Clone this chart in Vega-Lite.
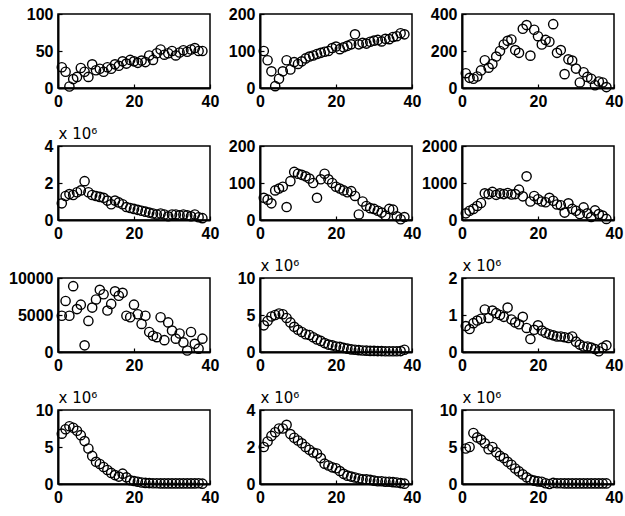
{
  "$schema": "https://vega.github.io/schema/vega-lite/v6.json",
  "background": "white",
  "padding": {"left": 7, "top": 5, "right": 5, "bottom": 5},
  "columns": 3,
  "bounds": "flush",
  "spacing": {"row": 58, "column": 50},
  "config": {
    "view": {"stroke": "black", "strokeWidth": 1.5},
    "axis": {
      "grid": false,
      "labelFont": "Liberation Sans",
      "labelFontSize": 16,
      "labelFontWeight": "bold",
      "labelColor": "black",
      "labelFlush": false,
      "labelOverlap": false,
      "labelPadding": 9,
      "domainColor": "black",
      "domainWidth": 2,
      "tickColor": "black",
      "tickSize": -4,
      "tickWidth": 1.2,
      "title": null,
      "format": "d",
      "titleFont": "DejaVu Sans",
      "titleFontSize": 15,
      "titleFontWeight": "normal",
      "titleColor": "black"
    },
    "point": {"shape": "circle", "filled": false, "stroke": "black", "strokeWidth": 1.4, "size": 85, "opacity": 1}
  },
  "datasets": {
    "p1": [{"x":1,"y":28},{"x":2,"y":22},{"x":3,"y":2},{"x":4,"y":12},{"x":5,"y":15},{"x":6,"y":27},{"x":7,"y":22},{"x":8,"y":15},{"x":9,"y":32},{"x":10,"y":24},{"x":11,"y":26},{"x":12,"y":22},{"x":13,"y":28},{"x":14,"y":26},{"x":15,"y":32},{"x":16,"y":30},{"x":17,"y":36},{"x":18,"y":33},{"x":19,"y":38},{"x":20,"y":36},{"x":21,"y":34},{"x":22,"y":37},{"x":23,"y":35},{"x":24,"y":44},{"x":25,"y":38},{"x":26,"y":47},{"x":27,"y":52},{"x":28,"y":45},{"x":29,"y":47},{"x":30,"y":50},{"x":31,"y":44},{"x":32,"y":48},{"x":33,"y":51},{"x":34,"y":49},{"x":35,"y":52},{"x":36,"y":54},{"x":37,"y":50},{"x":38,"y":50}],
    "p2": [{"x":1,"y":100},{"x":2,"y":75},{"x":3,"y":45},{"x":4,"y":5},{"x":5,"y":25},{"x":6,"y":45},{"x":7,"y":75},{"x":8,"y":50},{"x":9,"y":70},{"x":10,"y":65},{"x":11,"y":72},{"x":12,"y":80},{"x":13,"y":85},{"x":14,"y":88},{"x":15,"y":92},{"x":16,"y":95},{"x":17,"y":98},{"x":18,"y":100},{"x":19,"y":108},{"x":20,"y":112},{"x":21,"y":105},{"x":22,"y":110},{"x":23,"y":114},{"x":24,"y":118},{"x":25,"y":145},{"x":26,"y":118},{"x":27,"y":122},{"x":28,"y":120},{"x":29,"y":125},{"x":30,"y":128},{"x":31,"y":130},{"x":32,"y":126},{"x":33,"y":133},{"x":34,"y":132},{"x":35,"y":138},{"x":36,"y":140},{"x":37,"y":148},{"x":38,"y":145}],
    "p3": [{"x":1,"y":80},{"x":2,"y":55},{"x":3,"y":50},{"x":4,"y":62},{"x":5,"y":95},{"x":6,"y":150},{"x":7,"y":110},{"x":8,"y":130},{"x":9,"y":170},{"x":10,"y":200},{"x":11,"y":235},{"x":12,"y":255},{"x":13,"y":262},{"x":14,"y":205},{"x":15,"y":190},{"x":16,"y":320},{"x":17,"y":340},{"x":18,"y":175},{"x":19,"y":315},{"x":20,"y":280},{"x":21,"y":235},{"x":22,"y":260},{"x":23,"y":250},{"x":24,"y":345},{"x":25,"y":190},{"x":26,"y":205},{"x":27,"y":75},{"x":28,"y":155},{"x":29,"y":148},{"x":30,"y":105},{"x":31,"y":30},{"x":32,"y":85},{"x":33,"y":60},{"x":34,"y":50},{"x":35,"y":15},{"x":36,"y":35},{"x":37,"y":30},{"x":38,"y":5}],
    "p4": [{"x":1,"y":0.9},{"x":2,"y":1.3},{"x":3,"y":1.4},{"x":4,"y":1.35},{"x":5,"y":1.5},{"x":6,"y":1.6},{"x":7,"y":2.1},{"x":8,"y":1.5},{"x":9,"y":1.35},{"x":10,"y":1.3},{"x":11,"y":1.25},{"x":12,"y":1.2},{"x":13,"y":1.05},{"x":14,"y":0.85},{"x":15,"y":1.05},{"x":16,"y":0.95},{"x":17,"y":0.85},{"x":18,"y":0.7},{"x":19,"y":0.65},{"x":20,"y":0.6},{"x":21,"y":0.55},{"x":22,"y":0.5},{"x":23,"y":0.45},{"x":24,"y":0.4},{"x":25,"y":0.35},{"x":26,"y":0.3},{"x":27,"y":0.35},{"x":28,"y":0.3},{"x":29,"y":0.2},{"x":30,"y":0.3},{"x":31,"y":0.3},{"x":32,"y":0.25},{"x":33,"y":0.3},{"x":34,"y":0.25},{"x":35,"y":0.2},{"x":36,"y":0.3},{"x":37,"y":0.15},{"x":38,"y":0.1}],
    "p5": [{"x":1,"y":60},{"x":2,"y":55},{"x":3,"y":45},{"x":4,"y":80},{"x":5,"y":85},{"x":6,"y":90},{"x":7,"y":35},{"x":8,"y":105},{"x":9,"y":130},{"x":10,"y":125},{"x":11,"y":122},{"x":12,"y":118},{"x":13,"y":112},{"x":14,"y":100},{"x":15,"y":60},{"x":16,"y":110},{"x":17,"y":125},{"x":18,"y":110},{"x":19,"y":100},{"x":20,"y":90},{"x":21,"y":85},{"x":22,"y":80},{"x":23,"y":75},{"x":24,"y":78},{"x":25,"y":65},{"x":26,"y":15},{"x":27,"y":50},{"x":28,"y":38},{"x":29,"y":32},{"x":30,"y":30},{"x":31,"y":25},{"x":32,"y":20},{"x":33,"y":12},{"x":34,"y":30},{"x":35,"y":28},{"x":36,"y":10},{"x":37,"y":2},{"x":38,"y":8}],
    "p6": [{"x":1,"y":180},{"x":2,"y":250},{"x":3,"y":300},{"x":4,"y":380},{"x":5,"y":460},{"x":6,"y":720},{"x":7,"y":700},{"x":8,"y":760},{"x":9,"y":680},{"x":10,"y":720},{"x":11,"y":700},{"x":12,"y":730},{"x":13,"y":690},{"x":14,"y":700},{"x":15,"y":820},{"x":16,"y":640},{"x":17,"y":1180},{"x":18,"y":500},{"x":19,"y":650},{"x":20,"y":560},{"x":21,"y":500},{"x":22,"y":480},{"x":23,"y":600},{"x":24,"y":520},{"x":25,"y":420},{"x":26,"y":400},{"x":27,"y":200},{"x":28,"y":450},{"x":29,"y":300},{"x":30,"y":250},{"x":31,"y":160},{"x":32,"y":340},{"x":33,"y":180},{"x":34,"y":80},{"x":35,"y":260},{"x":36,"y":160},{"x":37,"y":120},{"x":38,"y":30}],
    "p7": [{"x":1,"y":4900},{"x":2,"y":6900},{"x":3,"y":4900},{"x":4,"y":8900},{"x":5,"y":5800},{"x":6,"y":6400},{"x":7,"y":900},{"x":8,"y":4200},{"x":9,"y":6000},{"x":10,"y":7100},{"x":11,"y":8400},{"x":12,"y":7800},{"x":13,"y":5600},{"x":14,"y":6500},{"x":15,"y":8200},{"x":16,"y":7600},{"x":17,"y":8000},{"x":18,"y":4900},{"x":19,"y":4700},{"x":20,"y":6400},{"x":21,"y":5100},{"x":22,"y":3800},{"x":23,"y":4900},{"x":24,"y":2700},{"x":25,"y":2200},{"x":26,"y":2000},{"x":27,"y":4700},{"x":28,"y":1600},{"x":29,"y":4000},{"x":30,"y":2900},{"x":31,"y":1800},{"x":32,"y":2500},{"x":33,"y":1300},{"x":34,"y":200},{"x":35,"y":2700},{"x":36,"y":1100},{"x":37,"y":450},{"x":38,"y":1800}],
    "p8": [{"x":1,"y":3.6},{"x":2,"y":4.2},{"x":3,"y":4.8},{"x":4,"y":5.0},{"x":5,"y":5.2},{"x":6,"y":5.1},{"x":7,"y":4.6},{"x":8,"y":4.0},{"x":9,"y":3.4},{"x":10,"y":3.0},{"x":11,"y":2.7},{"x":12,"y":2.4},{"x":13,"y":2.3},{"x":14,"y":2.0},{"x":15,"y":1.7},{"x":16,"y":1.5},{"x":17,"y":1.2},{"x":18,"y":1.0},{"x":19,"y":0.9},{"x":20,"y":0.75},{"x":21,"y":0.7},{"x":22,"y":0.55},{"x":23,"y":0.45},{"x":24,"y":0.35},{"x":25,"y":0.3},{"x":26,"y":0.25},{"x":27,"y":0.2},{"x":28,"y":0.18},{"x":29,"y":0.15},{"x":30,"y":0.15},{"x":31,"y":0.12},{"x":32,"y":0.12},{"x":33,"y":0.1},{"x":34,"y":0.1},{"x":35,"y":0.1},{"x":36,"y":0.1},{"x":37,"y":0.12},{"x":38,"y":0.3}],
    "p9": [{"x":1,"y":0.7},{"x":2,"y":0.62},{"x":3,"y":0.78},{"x":4,"y":0.85},{"x":5,"y":0.9},{"x":6,"y":1.15},{"x":7,"y":0.92},{"x":8,"y":1.12},{"x":9,"y":1.05},{"x":10,"y":1.0},{"x":11,"y":0.95},{"x":12,"y":1.2},{"x":13,"y":0.88},{"x":14,"y":0.8},{"x":15,"y":0.75},{"x":16,"y":0.95},{"x":17,"y":0.65},{"x":18,"y":0.35},{"x":19,"y":0.6},{"x":20,"y":0.72},{"x":21,"y":0.58},{"x":22,"y":0.52},{"x":23,"y":0.48},{"x":24,"y":0.45},{"x":25,"y":0.42},{"x":26,"y":0.42},{"x":27,"y":0.4},{"x":28,"y":0.38},{"x":29,"y":0.42},{"x":30,"y":0.28},{"x":31,"y":0.2},{"x":32,"y":0.15},{"x":33,"y":0.15},{"x":34,"y":0.12},{"x":35,"y":0.08},{"x":36,"y":0.02},{"x":37,"y":0.12},{"x":38,"y":0.18}],
    "p10": [{"x":1,"y":6.8},{"x":2,"y":7.4},{"x":3,"y":7.8},{"x":4,"y":7.6},{"x":5,"y":7.2},{"x":6,"y":6.6},{"x":7,"y":5.8},{"x":8,"y":4.8},{"x":9,"y":3.8},{"x":10,"y":3.0},{"x":11,"y":2.7},{"x":12,"y":2.3},{"x":13,"y":1.9},{"x":14,"y":1.5},{"x":15,"y":1.2},{"x":16,"y":1.0},{"x":17,"y":1.4},{"x":18,"y":0.9},{"x":19,"y":0.5},{"x":20,"y":0.4},{"x":21,"y":0.3},{"x":22,"y":0.2},{"x":23,"y":0.15},{"x":24,"y":0.12},{"x":25,"y":0.1},{"x":26,"y":0.1},{"x":27,"y":0.08},{"x":28,"y":0.08},{"x":29,"y":0.08},{"x":30,"y":0.08},{"x":31,"y":0.08},{"x":32,"y":0.08},{"x":33,"y":0.08},{"x":34,"y":0.08},{"x":35,"y":0.08},{"x":36,"y":0.08},{"x":37,"y":0.1},{"x":38,"y":0.05}],
    "p11": [{"x":1,"y":2.0},{"x":2,"y":2.3},{"x":3,"y":2.6},{"x":4,"y":2.8},{"x":5,"y":3.0},{"x":6,"y":3.0},{"x":7,"y":3.2},{"x":8,"y":2.7},{"x":9,"y":2.5},{"x":10,"y":2.35},{"x":11,"y":2.2},{"x":12,"y":2.0},{"x":13,"y":1.85},{"x":14,"y":1.7},{"x":15,"y":1.65},{"x":16,"y":1.4},{"x":17,"y":1.1},{"x":18,"y":1.0},{"x":19,"y":0.9},{"x":20,"y":0.85},{"x":21,"y":0.7},{"x":22,"y":0.55},{"x":23,"y":0.45},{"x":24,"y":0.4},{"x":25,"y":0.35},{"x":26,"y":0.3},{"x":27,"y":0.25},{"x":28,"y":0.25},{"x":29,"y":0.22},{"x":30,"y":0.18},{"x":31,"y":0.15},{"x":32,"y":0.15},{"x":33,"y":0.12},{"x":34,"y":0.12},{"x":35,"y":0.1},{"x":36,"y":0.08},{"x":37,"y":0.05},{"x":38,"y":0.02}],
    "p12": [{"x":1,"y":4.8},{"x":2,"y":5.0},{"x":3,"y":6.9},{"x":4,"y":6.3},{"x":5,"y":6.0},{"x":6,"y":5.5},{"x":7,"y":4.7},{"x":8,"y":5.0},{"x":9,"y":4.3},{"x":10,"y":3.8},{"x":11,"y":3.5},{"x":12,"y":3.0},{"x":13,"y":2.6},{"x":14,"y":2.1},{"x":15,"y":1.7},{"x":16,"y":1.3},{"x":17,"y":0.9},{"x":18,"y":0.6},{"x":19,"y":0.45},{"x":20,"y":0.35},{"x":21,"y":0.3},{"x":22,"y":0.1},{"x":23,"y":0.0},{"x":24,"y":0.15},{"x":25,"y":0.1},{"x":26,"y":0.1},{"x":27,"y":0.08},{"x":28,"y":0.08},{"x":29,"y":0.08},{"x":30,"y":0.08},{"x":31,"y":0.08},{"x":32,"y":0.08},{"x":33,"y":0.08},{"x":34,"y":0.08},{"x":35,"y":0.08},{"x":36,"y":0.08},{"x":37,"y":0.08},{"x":38,"y":0.08}]
  },
  "concat": [
    {"width": 152, "height": 74, "data": {"name": "p1"}, "mark": "point",
     "encoding": {"x": {"field": "x", "type": "quantitative", "scale": {"domain": [0, 40]}, "axis": {"values": [0, 20, 40]}},
                  "y": {"field": "y", "type": "quantitative", "scale": {"domain": [0, 100]}, "axis": {"values": [0, 50, 100]}}}},
    {"width": 152, "height": 74, "data": {"name": "p2"}, "mark": "point",
     "encoding": {"x": {"field": "x", "type": "quantitative", "scale": {"domain": [0, 40]}, "axis": {"values": [0, 20, 40]}},
                  "y": {"field": "y", "type": "quantitative", "scale": {"domain": [0, 200]}, "axis": {"values": [0, 100, 200]}}}},
    {"width": 152, "height": 74, "data": {"name": "p3"}, "mark": "point",
     "encoding": {"x": {"field": "x", "type": "quantitative", "scale": {"domain": [0, 40]}, "axis": {"values": [0, 20, 40]}},
                  "y": {"field": "y", "type": "quantitative", "scale": {"domain": [0, 400]}, "axis": {"values": [0, 200, 400]}}}},
    {"width": 152, "height": 74, "data": {"name": "p4"}, "mark": "point",
     "encoding": {"x": {"field": "x", "type": "quantitative", "scale": {"domain": [0, 40]}, "axis": {"values": [0, 20, 40]}},
                  "y": {"field": "y", "type": "quantitative", "scale": {"domain": [0, 4]}, "axis": {"values": [0, 2, 4], "title": "x 10⁶", "titleAngle": 0, "titleAlign": "left", "titleBaseline": "alphabetic", "titleX": 0, "titleY": -8}}}},
    {"width": 152, "height": 74, "data": {"name": "p5"}, "mark": "point",
     "encoding": {"x": {"field": "x", "type": "quantitative", "scale": {"domain": [0, 40]}, "axis": {"values": [0, 20, 40]}},
                  "y": {"field": "y", "type": "quantitative", "scale": {"domain": [0, 200]}, "axis": {"values": [0, 100, 200]}}}},
    {"width": 152, "height": 74, "data": {"name": "p6"}, "mark": "point",
     "encoding": {"x": {"field": "x", "type": "quantitative", "scale": {"domain": [0, 40]}, "axis": {"values": [0, 20, 40]}},
                  "y": {"field": "y", "type": "quantitative", "scale": {"domain": [0, 2000]}, "axis": {"values": [0, 1000, 2000]}}}},
    {"width": 152, "height": 74, "data": {"name": "p7"}, "mark": "point",
     "encoding": {"x": {"field": "x", "type": "quantitative", "scale": {"domain": [0, 40]}, "axis": {"values": [0, 20, 40]}},
                  "y": {"field": "y", "type": "quantitative", "scale": {"domain": [0, 10000]}, "axis": {"values": [0, 5000, 10000]}}}},
    {"width": 152, "height": 74, "data": {"name": "p8"}, "mark": "point",
     "encoding": {"x": {"field": "x", "type": "quantitative", "scale": {"domain": [0, 40]}, "axis": {"values": [0, 20, 40]}},
                  "y": {"field": "y", "type": "quantitative", "scale": {"domain": [0, 10]}, "axis": {"values": [0, 5, 10], "title": "x 10⁶", "titleAngle": 0, "titleAlign": "left", "titleBaseline": "alphabetic", "titleX": 0, "titleY": -8}}}},
    {"width": 152, "height": 74, "data": {"name": "p9"}, "mark": "point",
     "encoding": {"x": {"field": "x", "type": "quantitative", "scale": {"domain": [0, 40]}, "axis": {"values": [0, 20, 40]}},
                  "y": {"field": "y", "type": "quantitative", "scale": {"domain": [0, 2]}, "axis": {"values": [0, 1, 2], "title": "x 10⁶", "titleAngle": 0, "titleAlign": "left", "titleBaseline": "alphabetic", "titleX": 0, "titleY": -8}}}},
    {"width": 152, "height": 74, "data": {"name": "p10"}, "mark": "point",
     "encoding": {"x": {"field": "x", "type": "quantitative", "scale": {"domain": [0, 40]}, "axis": {"values": [0, 20, 40]}},
                  "y": {"field": "y", "type": "quantitative", "scale": {"domain": [0, 10]}, "axis": {"values": [0, 5, 10], "title": "x 10⁶", "titleAngle": 0, "titleAlign": "left", "titleBaseline": "alphabetic", "titleX": 0, "titleY": -8}}}},
    {"width": 152, "height": 74, "data": {"name": "p11"}, "mark": "point",
     "encoding": {"x": {"field": "x", "type": "quantitative", "scale": {"domain": [0, 40]}, "axis": {"values": [0, 20, 40]}},
                  "y": {"field": "y", "type": "quantitative", "scale": {"domain": [0, 4]}, "axis": {"values": [0, 2, 4], "title": "x 10⁶", "titleAngle": 0, "titleAlign": "left", "titleBaseline": "alphabetic", "titleX": 0, "titleY": -8}}}},
    {"width": 152, "height": 74, "data": {"name": "p12"}, "mark": "point",
     "encoding": {"x": {"field": "x", "type": "quantitative", "scale": {"domain": [0, 40]}, "axis": {"values": [0, 20, 40]}},
                  "y": {"field": "y", "type": "quantitative", "scale": {"domain": [0, 10]}, "axis": {"values": [0, 5, 10], "title": "x 10⁶", "titleAngle": 0, "titleAlign": "left", "titleBaseline": "alphabetic", "titleX": 0, "titleY": -8}}}}
  ]
}
